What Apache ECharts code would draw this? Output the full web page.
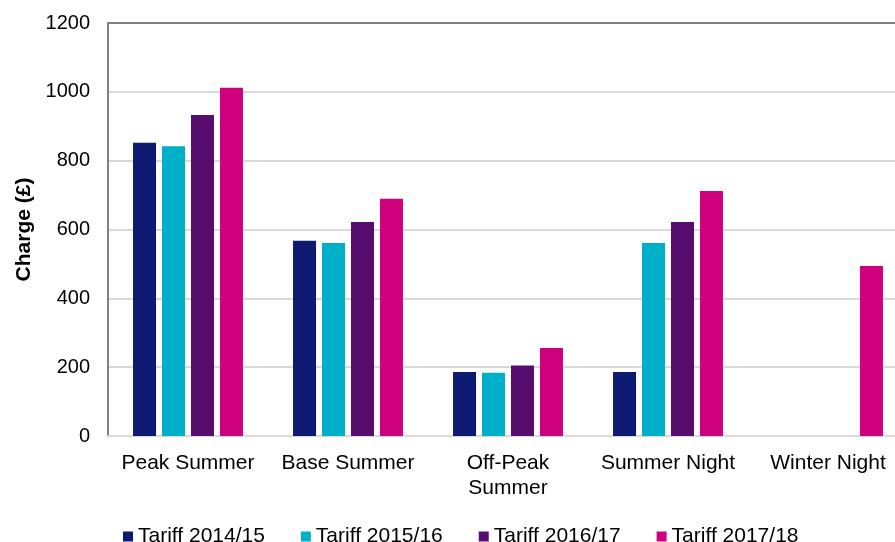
<!DOCTYPE html>
<html>
<head>
<meta charset="utf-8">
<script src="https://cdn.jsdelivr.net/npm/echarts@6/dist/echarts.min.js"></script>
<style>
  html, body { margin: 0; padding: 0; background: #fff; overflow: hidden; }
  #chart { width: 895px; height: 542px; }
</style>
</head>
<body>
<div id="chart"></div>
<script>
const categories = ['Peak Summer', 'Base Summer', 'Off-Peak\nSummer', 'Summer Night', 'Winter Night']
const seriesNames = ['Tariff 2014/15', 'Tariff 2015/16', 'Tariff 2016/17', 'Tariff 2017/18']
const tariff1415 = [852, 567, 186, 186, null]
const tariff1516 = [842, 561, 184, 561, null]
const tariff1617 = [933, 622, 205, 622, null]
const tariff1718 = [1012, 689, 256, 712, 494]
const yTicks = [0, 200, 400, 600, 800, 1000, 1200]

const colors = ['#0f1a72', '#00afc8', '#570d6d', '#d0017e']
const font = 'Liberation Sans, Arial, sans-serif'

const chart = echarts.init(document.getElementById('chart'))
const values = [tariff1415, tariff1516, tariff1617, tariff1718]

chart.setOption({
  animation: false,
  // plot runs past the right edge of the picture, as in the source image
  grid: {
    left: 108,
    width: 800,
    top: 23,
    bottom: 106,
    containLabel: false,
    outerBoundsMode: 'none'
  },
  legend: {
    left: 118,
    top: 521,
    itemWidth: 10,
    itemHeight: 10,
    itemGap: 36,
    icon: 'rect',
    textStyle: { fontFamily: font, fontSize: 21, color: '#000' },
    data: seriesNames
  },
  xAxis: {
    type: 'category',
    data: categories,
    axisLine: { lineStyle: { color: '#d9d9d9', width: 2 } },
    axisTick: { show: false },
    axisLabel: {
      margin: 15,
      fontFamily: font,
      fontSize: 21,
      color: '#000',
      lineHeight: 25,
      interval: 0
    }
  },
  yAxis: {
    type: 'value',
    min: yTicks[0],
    max: yTicks[yTicks.length - 1],
    interval: 200,
    name: 'Charge (£)',
    nameLocation: 'middle',
    nameRotate: 90,
    nameGap: 72,
    nameTextStyle: {
      fontFamily: font,
      fontSize: 21,
      fontWeight: 'bold',
      color: '#000'
    },
    axisLine: { show: true, lineStyle: { color: '#808080', width: 2 } },
    axisTick: { show: false },
    axisLabel: {
      margin: 18,
      fontFamily: font,
      fontSize: 20,
      color: '#000',
      formatter: v => String(v)
    },
    splitLine: {
      lineStyle: {
        color: ['#d9d9d9', '#d9d9d9', '#d9d9d9', '#d9d9d9', '#d9d9d9', '#d9d9d9', '#808080'],
        width: 2
      }
    }
  },
  series: seriesNames.map((name, i) => ({
    name: name,
    type: 'bar',
    barWidth: 23,
    barGap: '26%',
    itemStyle: { color: colors[i] },
    data: values[i]
  }))
})
</script>
</body>
</html>
